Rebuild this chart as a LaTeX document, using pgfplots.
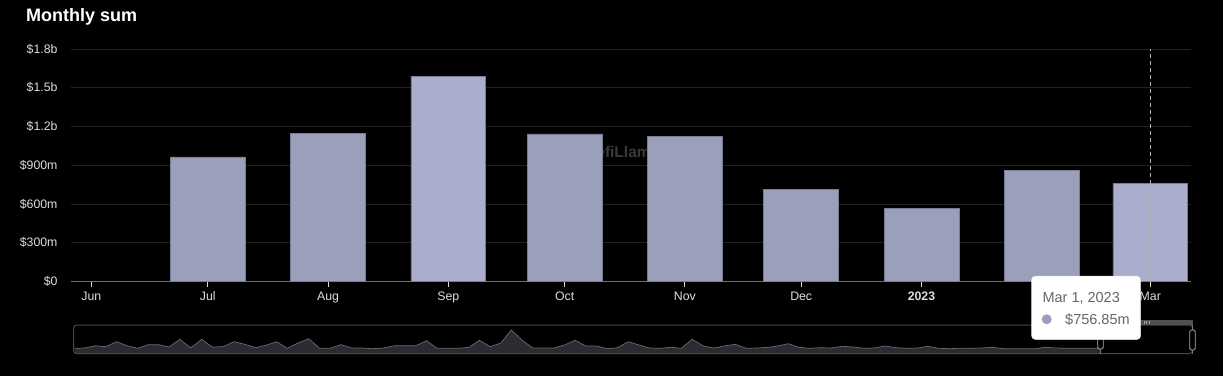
\documentclass[border=0pt]{standalone}
\usepackage{pgfplots}
\usepackage{pgfplotstable}
\pgfplotsset{compat=1.18}
\usepackage{fontspec}
\setmainfont{Liberation Sans}
\definecolor{barA}{RGB}{154,159,186}
\definecolor{barB}{RGB}{170,174,204}
\definecolor{barEdge}{RGB}{120,124,150}
\definecolor{gridc}{RGB}{34,34,34}
\definecolor{axisc}{RGB}{110,112,121}
\definecolor{labc}{RGB}{221,221,221}
\definecolor{wmc}{RGB}{58,58,60}
\definecolor{tipc}{RGB}{102,102,102}
\definecolor{areaf}{RGB}{43,44,49}
\definecolor{areal}{RGB}{105,106,114}
\definecolor{slb}{RGB}{72,72,74}
\definecolor{selbar}{RGB}{80,80,82}
\definecolor{handlec}{RGB}{170,170,170}

\pgfplotstableread{
x h
74.5 5.7
84.9 6.0
95.2 8.3
105.9 7.3
116.6 12.3
127.0 8.3
137.7 5.7
148.0 9.3
158.7 9.3
169.1 7.0
179.8 14.7
190.9 6.0
201.6 14.7
212.3 7.0
223.0 7.3
234.1 12.3
244.8 9.7
255.6 6.3
265.9 8.7
276.6 12.3
287.3 5.7
298.0 11.0
308.8 15.3
319.5 5.7
330.2 5.7
340.9 9.3
351.6 6.0
362.3 6.0
373.0 5.3
383.8 6.0
394.5 8.3
405.2 8.3
415.9 8.3
426.6 13.3
437.0 5.7
447.7 5.7
458.4 5.7
469.1 6.7
479.4 13.7
490.2 7.3
500.9 11.0
511.2 24.0
521.9 14.0
532.6 6.0
543.0 6.0
553.7 6.0
564.4 9.0
575.1 13.7
585.8 8.0
596.5 8.0
607.3 5.3
617.6 6.3
628.3 12.3
639.0 9.0
649.4 6.0
660.1 5.7
670.7 6.7
681.4 5.7
692.2 14.7
703.3 8.0
714.0 6.0
724.4 8.0
735.1 9.7
746.2 5.7
757.3 6.0
768.5 6.7
778.8 8.3
788.7 10.3
798.7 6.7
809.4 5.7
820.5 6.3
831.2 6.0
842.3 7.7
853.1 7.0
864.2 5.7
874.1 6.0
884.9 8.0
896.0 6.3
906.7 5.7
917.8 6.0
927.8 7.7
938.5 5.7
949.6 5.3
959.6 5.7
970.7 5.7
981.4 6.0
992.5 6.7
1003.3 5.3
1013.2 5.3
1024.3 5.3
1035.4 5.3
1045.0 6.7
1056.1 6.0
1066.8 5.7
1078.7 5.7
1089.4 5.7
1099.8 5.7
}\slider

\pgfplotstableread{
day value
30 0.965
61 1.149
122 1.142
153 1.126
183 0.716
214 0.569
245 0.863
}\barsA

\pgfplotstableread{
day value
92 1.590
273 0.75685
}\barsB

\begin{document}
\begin{tikzpicture}[x=1pt,y=1pt]
\fill[black] (0,0) rectangle (1223,376);
\useasboundingbox (0,0) rectangle (1223,376);
\node[anchor=base west, text=white, font=\fontsize{18}{22}\selectfont\bfseries, inner sep=0] at (26,355) {Monthly sum};
\node[anchor=base west, text=wmc, font=\fontsize{15.5}{18}\selectfont\bfseries, inner sep=0] at (585,219) {DefiLlama};

\begin{axis}[
  at={(70.7pt,94.5pt)}, anchor=south west,
  scale only axis, width=1120.3pt, height=232.5pt,
  xmin=-5.34, xmax=283.5, ymin=0, ymax=1.8,
  axis x line*=bottom, axis y line*=left,
  x axis line style={draw=axisc, line width=1pt, -},
  y axis line style={draw=none},
  ytick={0,0.3,0.6,0.9,1.2,1.5,1.8},
  yticklabels={\$0,\$300m,\$600m,\$900m,\$1.2b,\$1.5b,\$1.8b},
  xtick={0,30,61,92,122,153,183,214,245,273},
  xticklabels={Jun,Jul,Aug,Sep,Oct,Nov,Dec,\textbf{2023},{},Mar},
  ymajorgrids, major grid style={draw=gridc, line width=1pt},
  ytick style={draw=none},
  xtick style={draw=labc, line width=0.8pt},
  major tick length=5pt, tick align=outside,
  xticklabel style={text=labc, font=\fontsize{12.3}{14}\selectfont, anchor=base, yshift=-13.5pt},
  yticklabel style={text=labc, font=\fontsize{12.3}{14}\selectfont, anchor=east, inner sep=0pt, xshift=-8pt},
]
\addplot[ybar, bar shift=0pt, bar width=19.3, fill=barA, draw=barEdge, line width=0.6pt] table[x=day, y=value] {\barsA};
\addplot[ybar, bar shift=0pt, bar width=19.3, fill=barB, draw=barEdge, line width=0.6pt] table[x=day, y=value] {\barsB};
\draw[draw=labc!80!black, line width=0.7pt, dash pattern=on 4pt off 3pt] (axis cs:273,0) -- (axis cs:273,1.8);
\end{axis}

\begin{axis}[
  at={(73pt,22pt)}, anchor=south west,
  scale only axis, width=1120pt, height=29pt,
  xmin=73, xmax=1193, ymin=0, ymax=29,
  hide axis,
]
\addplot[fill=areaf, draw=none] table[x=x, y=h] {\slider} \closedcycle;
\addplot[draw=areal, line width=0.7pt] table[x=x, y=h] {\slider};
\end{axis}

% slider frame
\draw[slb, line width=1pt, rounded corners=3pt] (73.5,22.5) rectangle (1192.5,51);
\fill[selbar] (1100.5,51) rectangle (1192.5,56);
\foreach \xx in {1144,1146.5,1149} {\draw[handlec, line width=0.6pt] (\xx,52.2) -- (\xx,54.8);}
\draw[handlec!70!black, line width=0.8pt] (1100.5,22) -- (1100.5,51);
\draw[handlec!70!black, line width=0.8pt] (1192.5,22) -- (1192.5,51);
\draw[handlec, fill=black, line width=0.8pt, rounded corners=1.5pt] (1097.8,27) rectangle (1103.2,43);
\draw[handlec, fill=black, line width=0.8pt, rounded corners=1.5pt] (1189.8,26) rectangle (1195.2,46);

% tooltip
\draw[fill=white, draw=white!88!black, line width=0.5pt, rounded corners=4pt] (1031.5,36.5) rectangle (1140.7,100);
\node[anchor=base west, inner sep=0, text=tipc, font=\fontsize{14.5}{17}\selectfont] at (1042.3,73.7) {Mar 1, 2023};
\fill[barA] (1046.7,56.7) circle (5);
\node[anchor=base west, inner sep=0, text=tipc, font=\fontsize{14.5}{17}\selectfont] at (1065,51.7) {\$756.85m};
\end{tikzpicture}
\end{document}
